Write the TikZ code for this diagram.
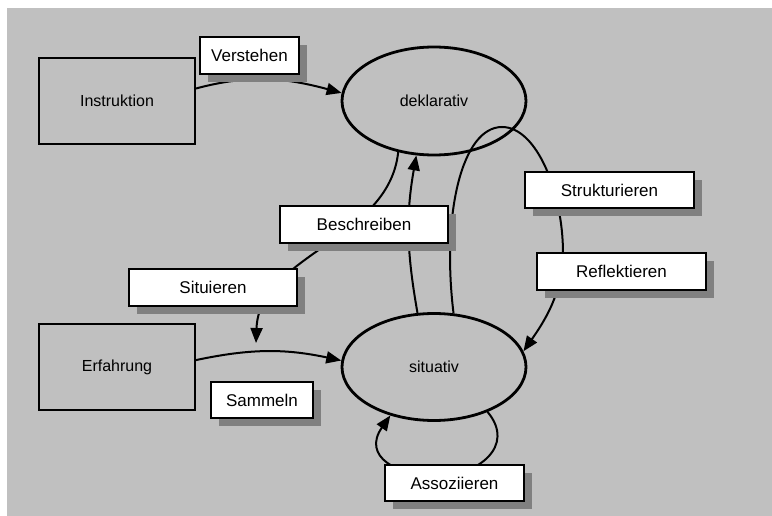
\documentclass[tikz,border=0pt]{standalone}
\usepackage{fontspec}
\setmainfont{Liberation Sans}
\usetikzlibrary{arrows.meta,shapes.geometric,shadows}
\definecolor{paper}{HTML}{C0C0C0}
\definecolor{shadowgray}{HTML}{808080}

\begin{document}
\begin{tikzpicture}[x=0.5pt,y=0.5pt,
    sourcebox/.style={draw,line width=1pt,minimum width=78pt,minimum height=43pt,font=\fontsize{8}{9.6}\selectfont},
    modebox/.style={draw,ellipse,line width=1.4pt,inner sep=0pt,minimum width=92pt,minimum height=54pt,font=\fontsize{8}{9.6}\selectfont},
    labelbox/.style={draw,fill=white,line width=1pt,inner sep=0pt,minimum height=18.5pt,font=\fontsize{8.5}{10}\selectfont,
      general shadow={fill=shadowgray,shadow xshift=4pt,shadow yshift=-4pt}},
    flow/.style={line width=1pt,-{Triangle[length=7.5pt,width=6pt]}}]
  \useasboundingbox (0,0) rectangle (772,515);
  \fill[paper] (7,-10) rectangle (782,507);

  \node[sourcebox] (instr) at (117,414) {Instruktion};
  \node[sourcebox] (erf) at (117,148) {Erfahrung};
  \node[modebox] (dekl) at (434,414) {deklarativ};
  \node[modebox,minimum height=53.5pt] (sit) at (434,148) {situativ};
  \coordinate (situtip) at (256,172);

  \draw[flow] (instr.9) to[out=15,in=165] (dekl.175);
  \draw[flow] (erf.5) to[out=12,in=168] (sit.176);
  \draw[flow] (dekl.235) to[out=-96,in=88,looseness=0.95] (situtip);
  \draw[flow] (sit.107) to[out=100,in=-100] (dekl.252);
  \draw[flow] (sit.70) .. controls +(97:100) and +(180:40) .. (502,388)
    .. controls +(0:35) and +(90:60) .. (563,262)
    .. controls +(-90:40) and +(55:35) .. (sit.10);
  \draw[flow] (sit.-40) .. controls +(-50:45) and +(0:40) .. (437,39)
    .. controls +(180:40) and +(-125:50) .. (sit.228);

  \node[labelbox,minimum width=49.5pt] (verst) at (249.5,459.5) {Verstehen};
  \node[labelbox,minimum width=84pt] (beschr) at (364,290.5) {Beschreiben};
  \node[labelbox,minimum width=84pt] (situ) at (213,227.5) {Situieren};
  \node[labelbox,minimum width=51pt,minimum height=18pt] (samm) at (262,115) {Sammeln};
  \node[labelbox,minimum width=84.5pt,minimum height=18pt] (strukt) at (609.5,325) {Strukturieren};
  \node[labelbox,minimum width=84.5pt] (refl) at (621.5,243.5) {Reflektieren};
  \node[labelbox,minimum width=69.5pt,minimum height=18pt] (assoz) at (454.5,32) {Assoziieren};
\end{tikzpicture}
\end{document}
